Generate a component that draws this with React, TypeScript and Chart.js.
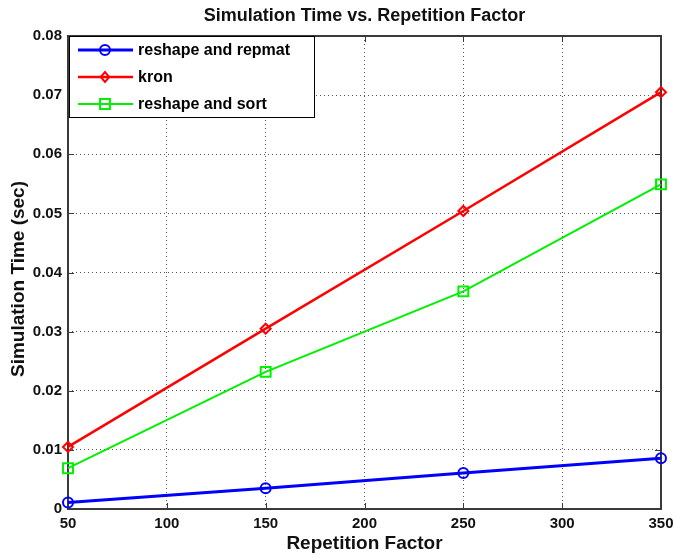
import React, { useEffect, useRef } from "react";
import { Chart, registerables } from "chart.js";

Chart.register(...registerables);

const repetitionFactors = [50, 150, 250, 350];
const reshapeRepmat = [0.0011, 0.0035, 0.0061, 0.0086];
const kron = [0.0105, 0.0305, 0.0504, 0.0705];
const reshapeSort = [0.0069, 0.0232, 0.0368, 0.0549];
const xTicks = [50, 100, 150, 200, 250, 300, 350];
const yTicks = [0, 0.01, 0.02, 0.03, 0.04, 0.05, 0.06, 0.07, 0.08];
const seriesNames = ["reshape and repmat", "kron", "reshape and sort"];
const titleText = "Simulation Time vs. Repetition Factor";
const xTitle = "Repetition Factor";
const yTitle = "Simulation Time (sec)";

const FONT = '"Liberation Sans", Arial, sans-serif';
const AXIS = "#3a3a3a";

function drawMarker(ctx: CanvasRenderingContext2D, style: string, x: number, y: number, r: number) {
  ctx.beginPath();
  if (style === "circle") {
    ctx.arc(x, y, r, 0, Math.PI * 2);
  } else if (style === "rectRot") {
    ctx.moveTo(x - r * 0.85, y);
    ctx.lineTo(x, y - r);
    ctx.lineTo(x + r * 0.85, y);
    ctx.lineTo(x, y + r);
    ctx.closePath();
  } else {
    const s = r * Math.SQRT1_2;
    ctx.rect(x - s, y - s, 2 * s, 2 * s);
  }
  ctx.stroke();
}

const overlay = {
  id: "overlay",
  beforeDatasetsDraw(chart: any) {
    const { ctx, chartArea: a, scales } = chart;
    ctx.save();
    ctx.strokeStyle = AXIS;
    ctx.lineWidth = 1;
    ctx.beginPath();
    xTicks.forEach((v) => {
      const px = Math.round(scales.x.getPixelForValue(v)) + 0.5;
      ctx.moveTo(px, a.bottom);
      ctx.lineTo(px, a.bottom - 6);
      ctx.moveTo(px, a.top);
      ctx.lineTo(px, a.top + 6);
    });
    yTicks.forEach((v) => {
      const py = Math.round(scales.y.getPixelForValue(v)) + 0.5;
      ctx.moveTo(a.left, py);
      ctx.lineTo(a.left + 6, py);
      ctx.moveTo(a.right, py);
      ctx.lineTo(a.right - 6, py);
    });
    ctx.stroke();
    ctx.lineWidth = 2;
    ctx.strokeRect(a.left, a.top, a.right - a.left, a.bottom - a.top);
    ctx.restore();
  },
  afterDatasetsDraw(chart: any) {
    const { ctx, chartArea: a } = chart;
    ctx.save();
    // legend
    const lx = a.left + 1, ly = a.top, lw = 245, lh = 81;
    ctx.fillStyle = "#fff";
    ctx.fillRect(lx, ly, lw, lh);
    ctx.strokeStyle = "#000";
    ctx.lineWidth = 1;
    ctx.strokeRect(lx + 0.5, ly + 0.5, lw, lh);
    const rows = [14, 41, 68];
    chart.data.datasets.forEach((ds: any, i: number) => {
      const y = ly + rows[i];
      ctx.strokeStyle = ds.borderColor;
      ctx.lineWidth = ds.borderWidth;
      ctx.beginPath();
      ctx.moveTo(lx + 9, y);
      ctx.lineTo(lx + 64, y);
      ctx.stroke();
      ctx.lineWidth = 2;
      drawMarker(ctx, ds.pointStyle, lx + 36, y, ds.pointRadius);
      ctx.fillStyle = "#000";
      ctx.font = `bold 16px ${FONT}`;
      ctx.textAlign = "left";
      ctx.textBaseline = "middle";
      ctx.fillText(ds.label, lx + 69, y + 1);
    });
    // titles
    const cx = (a.left + a.right) / 2;
    ctx.fillStyle = "#111";
    ctx.textAlign = "center";
    ctx.textBaseline = "middle";
    ctx.font = `bold 18px ${FONT}`;
    ctx.fillText(titleText, cx, 16);
    ctx.font = `bold 19px ${FONT}`;
    ctx.fillText(xTitle, cx, 544);
    ctx.translate(19, 279);
    ctx.rotate(-Math.PI / 2);
    ctx.fillText(yTitle, 0, 0);
    ctx.restore();
  },
};

export default function App() {
  const ref = useRef<HTMLCanvasElement>(null);
  useEffect(() => {
    const mk = (label: string, data: number[], color: string, style: string, lw: number, r: number) => ({
      label,
      data: repetitionFactors.map((x, i) => ({ x, y: data[i] })),
      borderColor: color,
      backgroundColor: "rgba(0,0,0,0)",
      borderWidth: lw,
      pointStyle: style,
      pointRadius: r,
      pointBorderWidth: 2,
      pointBackgroundColor: "rgba(0,0,0,0)",
      pointBorderColor: color,
      tension: 0,
      clip: false,
    });
    const chart = new Chart(ref.current!, {
      type: "line",
      data: {
        datasets: [
          mk(seriesNames[0], reshapeRepmat, "#0000ff", "circle", 3, 5),
          mk(seriesNames[1], kron, "#ff0000", "rectRot", 2.5, 5),
          mk(seriesNames[2], reshapeSort, "#00f000", "rect", 2, 7),
        ] as any,
      },
      options: {
        animation: false,
        responsive: false,
        layout: { padding: { top: 36, right: 12, left: 0, bottom: 0 } },
        plugins: { legend: { display: false }, title: { display: false }, tooltip: { enabled: false } },
        scales: {
          x: {
            type: "linear",
            min: 50,
            max: 350,
            afterFit: (s: any) => { s.height = 48; s.paddingLeft = 0; s.paddingRight = 0; },
            afterBuildTicks: (s: any) => { s.ticks = xTicks.map((v) => ({ value: v })); },
            ticks: { font: { family: FONT, size: 15, weight: "bold" }, color: "#111", padding: 6, maxRotation: 0, autoSkip: false },
            grid: { color: "#555", drawTicks: false, lineWidth: 1 },
            border: { display: false, dash: [1, 3] },
          },
          y: {
            type: "linear",
            min: 0,
            max: 0.08,
            afterFit: (s: any) => { s.width = 68; s.paddingTop = 0; s.paddingBottom = 0; },
            afterBuildTicks: (s: any) => { s.ticks = yTicks.map((v) => ({ value: v })); },
            ticks: {
              font: { family: FONT, size: 15, weight: "bold" },
              color: "#111",
              padding: 6,
              autoSkip: false,
              callback: (v: any) => (v === 0 ? "0" : (Math.round(v * 100) / 100).toFixed(2)),
            },
            grid: { color: "#555", drawTicks: false, lineWidth: 1 },
            border: { display: false, dash: [1, 3] },
          },
        },
      },
      plugins: [overlay],
    });
    return () => chart.destroy();
  }, []);
  return (
    <div style={{ position: "fixed", left: 0, top: 0, width: 673, height: 557, background: "#fff" }}>
      <canvas ref={ref} width={673} height={557} style={{ display: "block" }} />
    </div>
  );
}
